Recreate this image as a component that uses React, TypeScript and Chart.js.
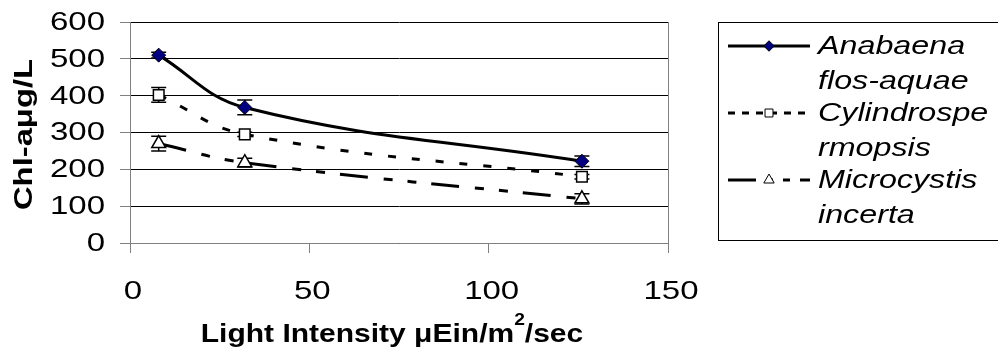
import React, { useEffect, useRef } from 'react';
import { Chart, registerables } from 'chart.js';
import { drawPoint } from 'chart.js/helpers';

Chart.register(...registerables);

const lightIntensity = [8, 32, 126];
const anabaena = [510, 368, 222];
const cylindrospermopsis = [402, 295, 180];
const microcystis = [270, 218, 120];
const anabaenaErr = [8, 20, 14];
const cylindrospermopsisErr = [20, 6, 6];
const microcystisErr = [20, 12, 14];
const seriesNames = ['Anabaena flos-aquae', 'Cylindrospermopsis', 'Microcystis incerta'];
const legendLines = [
  ['Anabaena', 'flos-aquae'],
  ['Cylindrospe', 'rmopsis'],
  ['Microcystis', 'incerta'],
];
const xTickValues = [0, 50, 100, 150];
const yTickValues = [0, 100, 200, 300, 400, 500, 600];
const xTitleParts = ['Light Intensity \u03bcEin/m', '2', '/sec'];
const yTitle = 'Chl-a\u03bcg/L';

const FONT = "'Liberation Sans', Arial, sans-serif";

const errors = [anabaenaErr, cylindrospermopsisErr, microcystisErr];
const legendDash = [[], [7, 7], [28, 10, 7, 10, 7, 10]];

function stretchText(ctx: any, text: string, x: number, y: number, sx: number, align: string) {
  ctx.save();
  ctx.translate(x, y);
  ctx.scale(sx, 1);
  ctx.textAlign = align;
  ctx.fillText(text, 0, 0);
  ctx.restore();
}

const errorBarPlugin = {
  id: 'errorBars',
  beforeDatasetsDraw(chart: any) {
    const ctx = chart.ctx;
    const y = chart.scales.y;
    ctx.save();
    ctx.strokeStyle = '#000';
    ctx.lineWidth = 1.5;
    chart.data.datasets.forEach((ds: any, i: number) => {
      const meta = chart.getDatasetMeta(i);
      meta.data.forEach((pt: any, j: number) => {
        const v = ds.data[j].y;
        const e = errors[i][j];
        const yt = y.getPixelForValue(v + e);
        const yb = y.getPixelForValue(v - e);
        const x = pt.x;
        ctx.beginPath();
        ctx.moveTo(x, yt);
        ctx.lineTo(x, yb);
        ctx.moveTo(x - 7.5, yt);
        ctx.lineTo(x + 7.5, yt);
        ctx.moveTo(x - 7.5, yb);
        ctx.lineTo(x + 7.5, yb);
        ctx.stroke();
      });
    });
    ctx.restore();
  },
};

const textPlugin = {
  id: 'stretchedText',
  afterDraw(chart: any) {
    const ctx = chart.ctx;
    const xs = chart.scales.x;
    const ys = chart.scales.y;
    ctx.save();
    ctx.fillStyle = '#000';
    // y tick labels
    ctx.font = `25px ${FONT}`;
    ctx.textBaseline = 'middle';
    yTickValues.forEach((v) => {
      stretchText(ctx, String(v), 105, ys.getPixelForValue(v) + 1, 1.32, 'right');
    });
    // x tick labels
    xTickValues.forEach((v) => {
      stretchText(ctx, String(v), xs.getPixelForValue(v) + 3, 292, 1.32, 'center');
    });
    // x title
    ctx.textBaseline = 'alphabetic';
    const sx = 1.2;
    ctx.font = `bold 25px ${FONT}`;
    const w1 = ctx.measureText(xTitleParts[0]).width;
    const w3 = ctx.measureText(xTitleParts[2]).width;
    ctx.font = `bold 16px ${FONT}`;
    const w2 = ctx.measureText(xTitleParts[1]).width;
    const total = (w1 + w2 + w3) * sx;
    const cx = (xs.left + xs.right) / 2 - 7;
    ctx.save();
    ctx.translate(cx - total / 2, 342);
    ctx.scale(sx, 1);
    ctx.textAlign = 'left';
    ctx.font = `bold 25px ${FONT}`;
    ctx.fillText(xTitleParts[0], 0, 0);
    ctx.font = `bold 16px ${FONT}`;
    ctx.fillText(xTitleParts[1], w1, -17);
    ctx.font = `bold 25px ${FONT}`;
    ctx.fillText(xTitleParts[2], w1 + w2, 0);
    ctx.restore();
    // y title
    ctx.save();
    ctx.font = `bold 26px ${FONT}`;
    ctx.translate(32, (ys.top + ys.bottom) / 2 + 2);
    ctx.rotate(-Math.PI / 2);
    ctx.scale(1.26, 1);
    ctx.textAlign = 'center';
    ctx.fillText(yTitle, 0, 0);
    ctx.restore();
    ctx.restore();
  },
};

const legendPlugin = {
  id: 'customLegend',
  afterDraw(chart: any) {
    const ctx = chart.ctx;
    ctx.save();
    ctx.fillStyle = '#fff';
    ctx.fillRect(718.5, 22.5, 400, 218);
    ctx.strokeStyle = '#000';
    ctx.lineWidth = 1;
    ctx.strokeRect(718.5, 22.5, 400, 218);
    const starts = [46, 113, 180];
    chart.data.datasets.forEach((ds: any, i: number) => {
      const yy = starts[i];
      ctx.save();
      ctx.strokeStyle = '#000';
      ctx.lineWidth = 3;
      ctx.setLineDash(legendDash[i]);
      ctx.beginPath();
      ctx.moveTo(728, yy);
      ctx.lineTo(810, yy);
      ctx.stroke();
      ctx.restore();
      ctx.save();
      ctx.fillStyle = ds.pointBackgroundColor;
      ctx.strokeStyle = '#000';
      ctx.lineWidth = 1;
      drawPoint(ctx, { pointStyle: ds.pointStyle, radius: ds.pointRadius * 0.75, rotation: 0, borderWidth: 1 }, 769, yy);
      ctx.restore();
      ctx.fillStyle = '#000';
      ctx.font = `italic 25px ${FONT}`;
      ctx.textBaseline = 'middle';
      legendLines[i].forEach((t, k) => {
        stretchText(ctx, t, 818, yy + 1 + k * 35, 1.29, 'left');
      });
    });
    ctx.restore();
  },
};

function toPoints(vals: number[]) {
  return vals.map((v, i) => ({ x: lightIntensity[i], y: v }));
}

export default function App() {
  const ref = useRef<HTMLCanvasElement>(null);
  useEffect(() => {
    document.body.style.margin = '0';
    const chart = new Chart(ref.current!, {
      type: 'line',
      data: {
        datasets: [
          {
            label: seriesNames[0],
            data: toPoints(anabaena),
            borderColor: '#000',
            borderWidth: 3,
            tension: 0.4,
            pointStyle: 'rectRot',
            pointRadius: 7,
            pointBackgroundColor: '#000080',
            pointBorderColor: '#000',
            pointBorderWidth: 1,
          },
          {
            label: seriesNames[1],
            data: toPoints(cylindrospermopsis),
            borderColor: '#000',
            borderWidth: 3,
            borderDash: [8, 16],
            tension: 0.4,
            pointStyle: 'rect',
            pointRadius: 7.5,
            pointBackgroundColor: '#fff',
            pointBorderColor: '#000',
            pointBorderWidth: 1.5,
          },
          {
            label: seriesNames[2],
            data: toPoints(microcystis),
            borderColor: '#000',
            borderWidth: 3,
            borderDash: [28, 16, 9, 15, 9, 15],
            tension: 0.4,
            pointStyle: 'triangle',
            pointRadius: 8,
            pointBackgroundColor: '#fff',
            pointBorderColor: '#000',
            pointBorderWidth: 1.5,
          },
        ],
      },
      options: {
        animation: false,
        responsive: false,
        maintainAspectRatio: false,
        layout: { padding: { left: 0, top: 22, right: 330, bottom: 0 } },
        plugins: { legend: { display: false }, tooltip: { enabled: false } },
        scales: {
          x: {
            type: 'linear',
            min: 0,
            max: 150,
            afterBuildTicks: (s: any) => {
              s.ticks = xTickValues.map((v) => ({ value: v }));
            },
            afterFit: (s: any) => {
              s.height = 111;
            },
            border: { display: true, color: '#808080', width: 1 },
            grid: {
              color: (c: any) => (c.tick && c.tick.value === 150 ? '#808080' : 'rgba(0,0,0,0)'),
              tickColor: '#808080',
              tickLength: 10,
              drawTicks: true,
            },
            ticks: { display: false },
            title: { display: false },
          },
          y: {
            type: 'linear',
            min: 0,
            max: 600,
            afterBuildTicks: (s: any) => {
              s.ticks = yTickValues.map((v) => ({ value: v }));
            },
            afterFit: (s: any) => {
              s.width = 130;
            },
            border: { display: true, color: '#808080', width: 1 },
            grid: {
              color: '#000',
              tickColor: '#808080',
              tickLength: 10,
              lineWidth: 1,
            },
            ticks: { display: false },
            title: { display: false },
          },
        },
      },
      plugins: [errorBarPlugin, textPlugin, legendPlugin],
    } as any);
    return () => chart.destroy();
  }, []);
  return (
    <div style={{ width: 998, height: 354 }}>
      <canvas ref={ref} width={998} height={354} style={{ width: 998, height: 354, display: 'block' }} />
    </div>
  );
}
